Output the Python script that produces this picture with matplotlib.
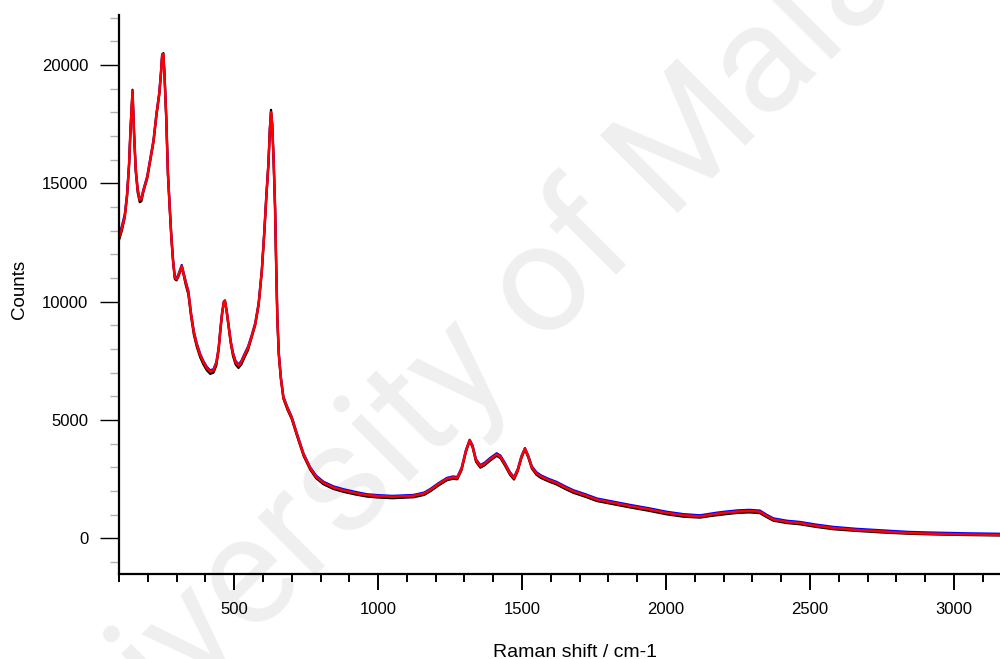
import numpy as np
import matplotlib as mpl
mpl.use('Agg')
import matplotlib.pyplot as plt
from matplotlib.ticker import MultipleLocator

mpl.rcParams['font.family'] = ['Liberation Sans', 'DejaVu Sans']

# Raman shift (cm-1) and counts for the three overlaid spectra
shift = [100, 110, 120, 128, 135, 140, 147, 152, 158, 165,
         172, 178, 185, 198, 210, 220, 230, 240, 246, 250,
         254, 258, 264, 270, 276, 282, 288, 294, 300, 306,
         312, 318, 324, 332, 341, 350, 360, 370, 382, 393,
         405, 417, 428, 438, 446, 452, 458, 464, 468, 474,
         480, 488, 496, 505, 515, 525, 536, 548, 560, 573,
         585, 596, 604, 612, 619, 624, 628, 632, 637, 642,
         646, 650, 655, 662, 671, 685, 700, 718, 741, 764,
         785, 810, 845, 880, 920, 961, 1000, 1050, 1090, 1123,
         1160, 1181, 1210, 1239, 1260, 1275, 1290, 1305, 1318, 1328,
         1340, 1355, 1370, 1389, 1412, 1425, 1440, 1458, 1472, 1485,
         1498, 1510, 1522, 1534, 1550, 1565, 1590, 1620, 1650, 1678,
         1720, 1760, 1820, 1875, 1940, 2002, 2060, 2118, 2150, 2176,
         2210, 2250, 2290, 2326, 2350, 2373, 2420, 2465, 2520, 2581,
         2660, 2755, 2840, 2928, 3040, 3160]

counts_black = [12600, 13000, 13550, 14450, 15750, 17300, 18950, 17150, 15500, 14600,
                14200, 14250, 14650, 15200, 16050, 16750, 17850, 18750, 19650, 20400,
                20500, 19550, 17750, 15350, 13950, 12650, 11650, 10950, 10900, 11050,
                11250, 11450, 11150, 10700, 10300, 9400, 8600, 8100, 7650, 7350,
                7100, 6950, 7000, 7300, 7950, 8750, 9450, 9950, 10050, 9550,
                9000, 8250, 7700, 7350, 7200, 7350, 7650, 7950, 8450, 9000,
                9850, 11250, 12750, 14450, 15800, 17300, 18100, 17450, 15950, 13950,
                11450, 9250, 7750, 6750, 5900, 5440, 5040, 4340, 3490, 2910,
                2540, 2290, 2090, 1970, 1860, 1770, 1730, 1700, 1720, 1740,
                1840, 1990, 2240, 2460, 2520, 2500, 2890, 3650, 4120, 3850,
                3240, 2990, 3090, 3290, 3490, 3390, 3090, 2690, 2490, 2840,
                3400, 3760, 3400, 2950, 2690, 2560, 2420, 2280, 2090, 1930,
                1760, 1580, 1440, 1310, 1170, 1020, 920, 880, 940, 980,
                1030, 1080, 1100, 1070, 900, 750, 650, 600, 490, 390,
                320, 250, 200, 170, 145, 125]

counts_blue = [12800, 13200, 13700, 14550, 15850, 17250, 18800, 17250, 15650, 14750,
               14350, 14400, 14750, 15300, 16150, 16850, 17950, 18850, 19750, 20450,
               20400, 19650, 17850, 15450, 14050, 12750, 11750, 11050, 11000, 11150,
               11350, 11550, 11250, 10850, 10450, 9550, 8750, 8250, 7800, 7500,
               7250, 7100, 7150, 7450, 8050, 8850, 9550, 10000, 10000, 9650,
               9100, 8350, 7850, 7500, 7350, 7500, 7800, 8100, 8550, 9100,
               9950, 11350, 12850, 14550, 15850, 17250, 17950, 17550, 16050, 14050,
               11550, 9350, 7850, 6850, 6000, 5550, 5140, 4440, 3590, 3010,
               2650, 2400, 2200, 2080, 1970, 1870, 1830, 1800, 1820, 1840,
               1940, 2090, 2340, 2560, 2620, 2600, 2990, 3740, 4170, 3940,
               3350, 3100, 3200, 3400, 3600, 3500, 3200, 2800, 2590, 2940,
               3490, 3820, 3490, 3050, 2800, 2670, 2530, 2390, 2200, 2040,
               1870, 1690, 1550, 1420, 1280, 1130, 1030, 980, 1040, 1090,
               1140, 1190, 1210, 1180, 1000, 850, 750, 700, 590, 490,
               410, 340, 280, 250, 220, 200]

counts_red = [12700, 13100, 13600, 14500, 15800, 17300, 18900, 17200, 15600, 14700,
              14300, 14350, 14700, 15250, 16100, 16800, 17900, 18800, 19700, 20450,
              20450, 19600, 17800, 15400, 14000, 12700, 11700, 11000, 10950, 11100,
              11300, 11500, 11200, 10800, 10400, 9500, 8700, 8200, 7750, 7450,
              7200, 7050, 7100, 7400, 8000, 8800, 9500, 10000, 10050, 9600,
              9050, 8300, 7800, 7450, 7300, 7450, 7750, 8050, 8500, 9050,
              9900, 11300, 12800, 14500, 15800, 17300, 18000, 17500, 16000, 14000,
              11500, 9300, 7800, 6800, 5950, 5500, 5100, 4400, 3550, 2970,
              2600, 2350, 2150, 2030, 1920, 1830, 1790, 1760, 1780, 1800,
              1900, 2050, 2300, 2520, 2580, 2560, 2950, 3700, 4150, 3900,
              3300, 3050, 3150, 3350, 3550, 3450, 3150, 2750, 2550, 2900,
              3450, 3800, 3450, 3000, 2750, 2620, 2480, 2340, 2150, 1990,
              1820, 1640, 1500, 1370, 1230, 1080, 980, 930, 990, 1040,
              1090, 1140, 1160, 1130, 950, 800, 700, 650, 540, 440,
              360, 290, 230, 200, 170, 150]

fig = plt.figure(figsize=(10, 6.59), dpi=100)
ax = fig.add_axes([0.119, 0.129, 0.881, 0.848])
ax.set_zorder(1)
ax.patch.set_visible(False)

# watermark behind the data
fig.text(0.531, 0.452, 'University of Malaya', rotation=45, rotation_mode='anchor',
         ha='center', va='baseline', fontsize=111, color='#efefef', zorder=0,
         family='Roboto')

ax.plot(shift, counts_black, color='black', lw=1.6)
ax.plot(shift, counts_blue, color='blue', lw=1.6)
ax.plot(shift, counts_red, color='red', lw=1.8)

ax.set_xlim(100, 3160)
ax.set_ylim(-1500, 22100)

for s in ['top', 'right']:
    ax.spines[s].set_visible(False)
for s in ['left', 'bottom']:
    ax.spines[s].set_linewidth(1.6)

ax.xaxis.set_major_locator(MultipleLocator(500))
ax.xaxis.set_minor_locator(MultipleLocator(100))
ax.yaxis.set_major_locator(MultipleLocator(5000))
ax.yaxis.set_minor_locator(MultipleLocator(1000))

ax.tick_params(axis='x', which='major', direction='out', length=11.5, width=1.4,
               labelsize=12, pad=9)
ax.tick_params(axis='x', which='minor', direction='out', length=6, width=1.4)
ax.tick_params(axis='y', which='major', direction='out', length=14, width=1.0,
               labelsize=12, pad=8)
ax.tick_params(axis='y', which='minor', direction='out', length=6.5, width=1.0,
               color='#b0b0b0')

ax.set_xlabel('Raman shift / cm-1', fontsize=14)
ax.xaxis.label.set_va('baseline')
ax.xaxis.set_label_coords(0.518, -0.1485)
ax.set_ylabel('Counts', fontsize=13.5)
ax.yaxis.label.set_va('center')
ax.yaxis.set_label_coords(-0.1124, 0.51)

fig.savefig('out.png', dpi=100)
